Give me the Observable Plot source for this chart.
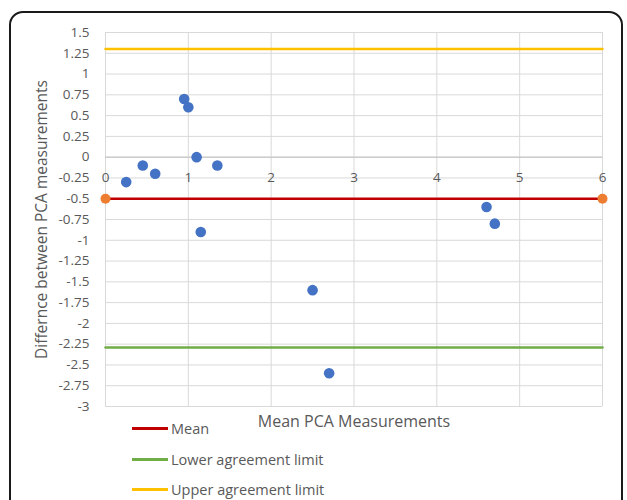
<!DOCTYPE html>
<html>
<head>
<meta charset="utf-8">
<script src="https://cdn.jsdelivr.net/npm/d3@7"></script>
<script src="https://cdn.jsdelivr.net/npm/@observablehq/plot@0.6"></script>
<style>
  html, body { margin: 0; padding: 0; background: #fff; overflow: hidden; }
  #wrap { position: relative; width: 627px; height: 500px; overflow: hidden; font-family: "Open Sans", "Noto Sans", sans-serif; }
  #border { position: absolute; left: 9px; top: 11px; width: 614px; height: 520px; border: 2px solid #1a1a1a; border-radius: 14px; box-sizing: border-box; }
  #chart { position: absolute; left: 0; top: 0; }
  .leg { position: absolute; left: 132px; height: 20px; display: flex; align-items: center; font-size: 14.5px; color: #595959; white-space: nowrap; }
  .leg span.sw { display: inline-block; width: 36px; height: 3px; margin-right: 3px; }
</style>
</head>
<body>
<div id="wrap">
  <div id="border"></div>
  <div id="chart"></div>
  <div id="legend"></div>
</div>
<script>
// Data
const meanPCA = [0.25, 0.45, 0.6, 0.95, 1.0, 1.1, 1.35, 1.15, 2.5, 2.7, 4.6, 4.7];
const diffPCA = [-0.3, -0.1, -0.2, 0.7, 0.6, 0, -0.1, -0.9, -1.6, -2.6, -0.6, -0.8];
const meanDiff = -0.5;
const lowerLimit = -2.29;
const upperLimit = 1.3;
const lineEnds = [0, 6];
const xTicks = [0, 1, 2, 3, 4, 5, 6];
const yTicks = [1.5, 1.25, 1, 0.75, 0.5, 0.25, 0, -0.25, -0.5, -0.75, -1, -1.25, -1.5, -1.75, -2, -2.25, -2.5, -2.75, -3];
const xTitle = "Mean PCA Measurements";
const yTitle = "Differnce between PCA measurements";
const legendNames = ["Mean", "Lower agreement limit", "Upper agreement limit"];
const legendColors = ["#c00000", "#70ad47", "#ffc000"];

const points = meanPCA.map((x, i) => ({x, y: diffPCA[i]}));
const lineData = (v) => lineEnds.map(x => ({x, y: v}));

const chart = Plot.plot({
  width: 627,
  height: 440,
  marginLeft: 105,
  marginRight: 25,
  marginTop: 32,
  marginBottom: 34,
  x: {domain: [0, 6], axis: null},
  y: {domain: [-3, 1.5], axis: null},
  style: {fontFamily: "'Open Sans', 'Noto Sans', sans-serif", background: "transparent", overflow: "visible"},
  marks: [
    Plot.ruleX(xTicks, {x: d => d, stroke: "#d9d9d9", strokeWidth: 1}),
    Plot.ruleY(yTicks, {y: d => d, stroke: "#d9d9d9", strokeWidth: 1}),
    Plot.ruleY([0], {stroke: "#bfbfbf", strokeWidth: 1}),
    Plot.line(lineData(upperLimit), {x: "x", y: "y", stroke: legendColors[2], strokeWidth: 2.5}),
    Plot.line(lineData(lowerLimit), {x: "x", y: "y", stroke: legendColors[1], strokeWidth: 2.5}),
    Plot.line(lineData(meanDiff), {x: "x", y: "y", stroke: legendColors[0], strokeWidth: 2.5}),
    Plot.dot(lineData(meanDiff), {x: "x", y: "y", r: 5, fill: "#ed7d31", stroke: "none"}),
    Plot.dot(points, {x: "x", y: "y", r: 5.3, fill: "#4472c4", stroke: "none"}),
    Plot.text(xTicks, {x: d => d, y: 0, dy: 21, text: d => String(d), fill: "#595959", fontSize: 13.5}),
    Plot.text(yTicks, {x: 0, y: d => d, dx: -16, text: d => String(d), textAnchor: "end", fill: "#595959", fontSize: 13.5}),
    Plot.text([xTitle], {frameAnchor: "bottom", dy: 15, lineAnchor: "middle", textAnchor: "middle", text: d => d, fill: "#595959", fontSize: 16}),
    Plot.text([yTitle], {frameAnchor: "left", dx: -63, rotate: -90, lineAnchor: "middle", textAnchor: "middle", text: d => d, fill: "#595959", fontSize: 15.5})
  ]
});
document.getElementById("chart").appendChild(chart);

const legend = document.getElementById("legend");
const legendTops = [418, 449, 479];
legendNames.forEach((name, i) => {
  const div = document.createElement("div");
  div.className = "leg";
  div.style.top = legendTops[i] + "px";
  const sw = document.createElement("span");
  sw.className = "sw";
  sw.style.background = legendColors[i];
  div.appendChild(sw);
  div.appendChild(document.createTextNode(name));
  legend.appendChild(div);
});
</script>
</body>
</html>
